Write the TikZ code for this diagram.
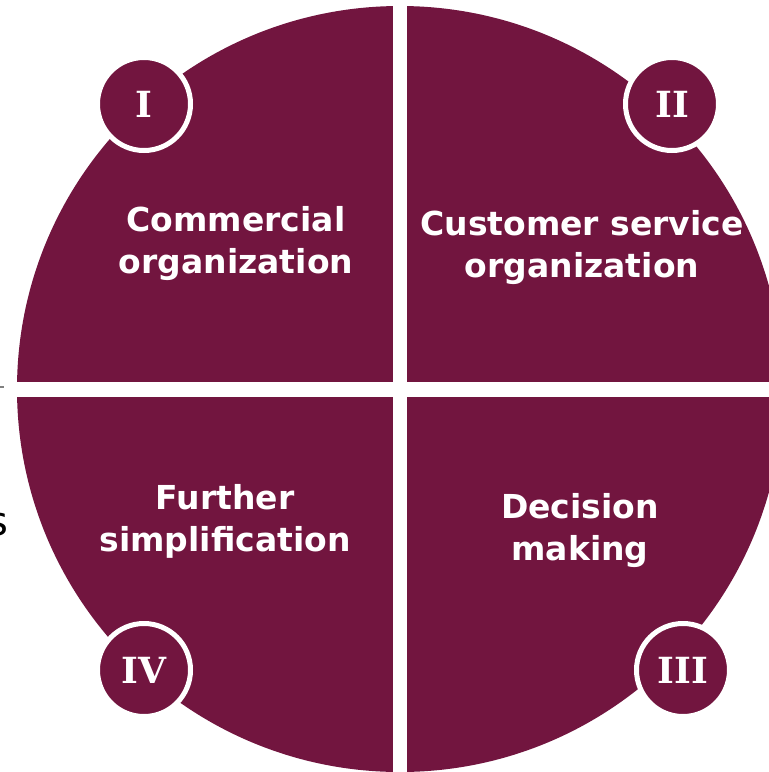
\documentclass[tikz,border=0pt]{standalone}
\usepackage{fontspec}
\setmainfont{DejaVu Sans}
\newfontfamily\numfont{DejaVu Serif}
\definecolor{Wine}{HTML}{72153F}
\tikzset{
  quadlabel/.style={text=white, align=center, font=\bfseries\fontsize{33}{42}\selectfont},
  badge/.style={circle, fill=Wine, draw=white, line width=5pt, minimum size=93pt, inner sep=0pt,
    text=white, font=\numfont\bfseries\fontsize{36}{40}\selectfont},
  gap/.style={fill=white},
}
\begin{document}
\begin{tikzpicture}[x=1pt, y=-1pt]
  \useasboundingbox (0,0) rectangle (769,772);

  % the disc, split into four by white bands
  \fill[Wine] (400,389) circle (383);
  \fill[gap] (393,-10) rectangle (407,790);
  \fill[gap] (-10,382) rectangle (790,397);

  % leftovers at the left edge
  \draw[gray, line width=1.5pt] (-2,387) -- (4,387);
  \node[anchor=east, font=\fontsize{40}{40}\selectfont, inner sep=0pt] (cut) at (9,525) {s};

  % quadrant titles
  \node[quadlabel] (q1) at (236,244) {Commercial\\organization};
  \node[quadlabel] (q2) at (582,248) {Customer service\\organization};
  \node[quadlabel] (q4) at (225,521) {Further\\simplification};
  \node[quadlabel] (q3) at (580,531) {Decision\\making};

  % numbered badges
  \node[badge] (b1) at (144,104) {I};
  \node[badge] (b2) at (672,104) {II};
  \node[badge] (b3) at (683,670) {III};
  \node[badge] (b4) at (144,670) {IV};
\end{tikzpicture}
\end{document}
